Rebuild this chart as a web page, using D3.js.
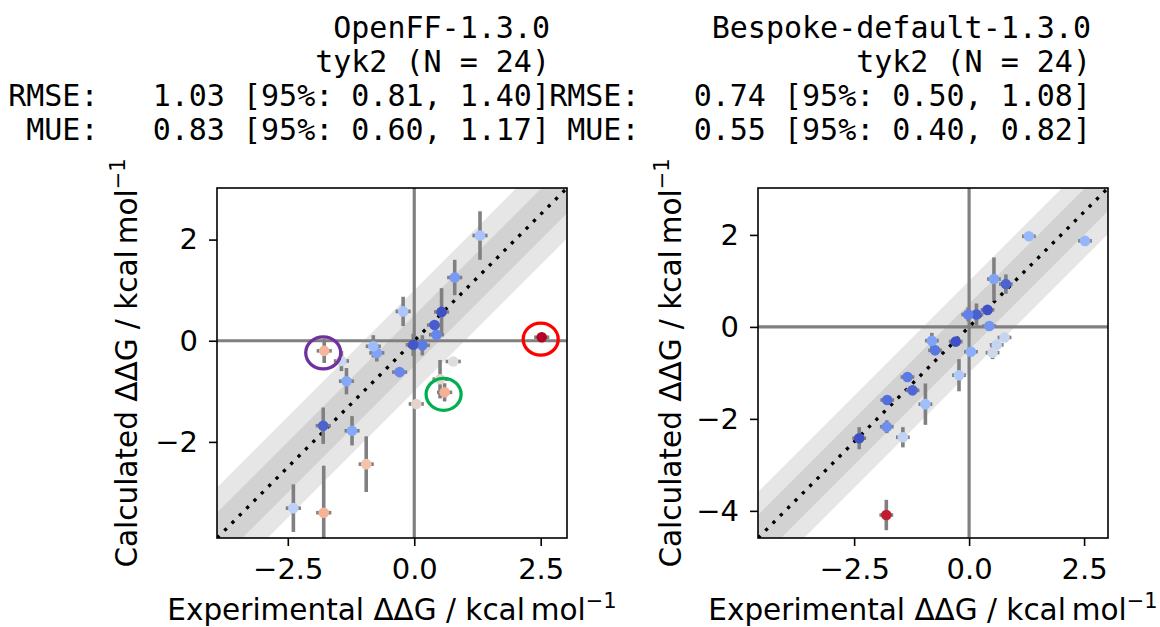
<!DOCTYPE html>
<html>
<head>
<meta charset="utf-8">
<script src="https://cdn.jsdelivr.net/npm/d3@7"></script>
<style>
  body { margin: 0; background: #fff; }
  text { font-family: "DejaVu Sans", sans-serif; fill: #000; }
  .title { font-family: "DejaVu Sans Mono", monospace; white-space: pre; }
</style>
</head>
<body>
<svg id="fig" width="1160" height="627"></svg>
<script>
// experimental ddG (shared by both panels), kcal/mol
var experimental = [2.52, 1.30, 0.80, 0.77, 0.60, 0.54, 0.51, 0.44, 0.40, 0.16, 0.04, -0.02,
                    -0.22, -0.29, -0.74, -0.81, -0.95, -1.23, -1.34, -1.44, -1.78, -1.79, -1.80, -2.39];
var experimentalErr = [0.15, 0.15, 0.15, 0.15, 0.15, 0.15, 0.15, 0.15, 0.15, 0.15, 0.15, 0.15,
                       0.15, 0.15, 0.15, 0.15, 0.15, 0.15, 0.15, 0.15, 0.15, 0.15, 0.15, 0.15];

var openffCalc = [0.07, 2.08, 1.25, -0.41, -1.02, 0.57, -0.76, 0.12, 0.31, -0.09, -1.25, -0.08,
                  0.58, -0.62, -0.24, -0.11, -2.44, -1.78, -0.80, -0.40, -0.20, -3.40, -1.68, -3.31];
var openffErr = [0.06, 0.48, 0.35, 0.06, 0.18, 0.47, 0.38, 0.08, 0.08, 0.20, 0.06, 0.22,
                 0.29, 0.05, 0.17, 0.22, 0.55, 0.29, 0.26, 0.20, 0.24, 0.93, 0.36, 0.47];

var bespokeCalc = [1.87, 1.97, 0.93, -0.23, -0.39, 1.04, -0.56, 0.02, 0.37, 0.27, -0.54, 0.27,
                   -1.05, -0.32, -0.51, -0.30, -1.68, -1.38, -1.09, -2.40, -1.59, -2.17, -4.09, -2.42];
var bespokeErr = [0.05, 0.05, 0.21, 0.07, 0.07, 0.47, 0.14, 0.05, 0.08, 0.24, 0.08, 0.15,
                  0.35, 0.06, 0.10, 0.17, 0.45, 0.10, 0.07, 0.22, 0.07, 0.14, 0.33, 0.24];

var xTicks = [-2.5, 0, 2.5];
var openffYTicks = [-2, 0, 2];
var bespokeYTicks = [-4, -2, 0, 2];

var openffTitle = ["OpenFF-1.3.0", "tyk2 (N = 24)",
                   "RMSE:   1.03 [95%: 0.81, 1.40]", " MUE:   0.83 [95%: 0.60, 1.17]"];
var bespokeTitle = ["Bespoke-default-1.3.0", "tyk2 (N = 24)",
                    "RMSE:   0.74 [95%: 0.50, 1.08]", " MUE:   0.55 [95%: 0.40, 0.82]"];

// points circled in the OpenFF panel (index into experimental)
var openffMarked = [0, 20, 4];
var markColors = ["#ff0000", "#7030a0", "#00b050"];

// coolwarm, coloured by |exp - calc| / 4RT (2.372 kcal/mol)
var coolwarm = d3.scaleLinear()
  .domain([0, 0.125, 0.25, 0.375, 0.5, 0.625, 0.75, 0.875, 1])
  .range(["#3b4cc0", "#6282ea", "#8db0fe", "#b8d0f9", "#dddddd", "#f5c4ad", "#f49a7b", "#de604d", "#b40426"])
  .clamp(true);

var svg = d3.select("#fig");
var size = 350;
var fontSize = 29.5;

drawPanel({ id: "openff", left: 217, top: 188, calc: openffCalc, err: openffErr,
            yTicks: openffYTicks, title: openffTitle, titleRight: 550, ylabelX: 137, marked: openffMarked });
drawPanel({ id: "bespoke", left: 758, top: 188, calc: bespokeCalc, err: bespokeErr,
            yTicks: bespokeYTicks, title: bespokeTitle, titleRight: 1091, ylabelX: 681, marked: [] });

function drawPanel(p) {
  var all = experimental.concat(p.calc);
  var lo = d3.min(all) - 0.5, hi = d3.max(all) + 0.5;
  var x = d3.scaleLinear().domain([lo, hi]).range([0, size]);
  var y = d3.scaleLinear().domain([lo, hi]).range([size, 0]);

  var g = svg.append("g").attr("transform", "translate(" + p.left + "," + p.top + ")");

  g.append("clipPath").attr("id", "clip-" + p.id)
    .append("rect").attr("width", size).attr("height", size);
  var plot = g.append("g").attr("clip-path", "url(#clip-" + p.id + ")");

  /* shaded bands of 1 and 0.5 kcal/mol round y = x */
  [1, 0.5].forEach(function(w) {
    var band = [[lo, lo - w], [hi, hi - w], [hi, hi + w], [lo, lo + w]];
    plot.append("path")
      .attr("d", d3.line().x(function(d) { return x(d[0]); }).y(function(d) { return y(d[1]); })(band) + "Z")
      .attr("fill", "#808080")
      .attr("fill-opacity", 0.2);
  });

  /* zero lines */
  plot.append("line")
    .attr("x1", x(0)).attr("x2", x(0)).attr("y1", 0).attr("y2", size)
    .attr("stroke", "#808080").attr("stroke-width", 3.2);
  plot.append("line")
    .attr("x1", 0).attr("x2", size).attr("y1", y(0)).attr("y2", y(0))
    .attr("stroke", "#808080").attr("stroke-width", 3.2);

  /* y = x */
  plot.append("line")
    .attr("x1", x(lo)).attr("y1", y(lo)).attr("x2", x(hi)).attr("y2", y(hi))
    .attr("stroke", "#000").attr("stroke-width", 3.3)
    .attr("stroke-dasharray", "3.3 7.1");

  var pts = experimental.map(function(e, i) {
    return { exp: e, expErr: experimentalErr[i], calc: p.calc[i], err: p.err[i] };
  });

  /* error bars */
  plot.selectAll(".yerr").data(pts).enter().append("line")
    .attr("x1", function(d) { return x(d.exp); })
    .attr("x2", function(d) { return x(d.exp); })
    .attr("y1", function(d) { return y(d.calc - d.err); })
    .attr("y2", function(d) { return y(d.calc + d.err); })
    .attr("stroke", "#808080").attr("stroke-width", 3.6);
  plot.selectAll(".xerr").data(pts).enter().append("line")
    .attr("x1", function(d) { return x(d.exp - d.expErr); })
    .attr("x2", function(d) { return x(d.exp + d.expErr); })
    .attr("y1", function(d) { return y(d.calc); })
    .attr("y2", function(d) { return y(d.calc); })
    .attr("stroke", "#808080").attr("stroke-width", 3.6);

  /* points */
  plot.selectAll(".pt").data(pts).enter().append("circle")
    .attr("cx", function(d) { return x(d.exp); })
    .attr("cy", function(d) { return y(d.calc); })
    .attr("r", 5.3)
    .attr("fill", function(d) { return coolwarm(Math.abs(d.exp - d.calc) / 2.372); });

  /* frame */
  g.append("rect").attr("width", size).attr("height", size)
    .attr("fill", "none").attr("stroke", "#000").attr("stroke-width", 1.6);

  /* axes */
  var xAxis = g.append("g").attr("transform", "translate(0," + size + ")")
    .call(d3.axisBottom(x).tickValues(xTicks).tickFormat(d3.format(".1f")).tickSize(8).tickPadding(12));
  var yAxis = g.append("g")
    .call(d3.axisLeft(y).tickValues(p.yTicks).tickFormat(d3.format("d")).tickSize(8).tickPadding(11));
  [xAxis, yAxis].forEach(function(a) {
    a.select(".domain").remove();
    a.selectAll("line").attr("stroke", "#000").attr("stroke-width", 1.6);
    a.selectAll("text").attr("font-family", "DejaVu Sans").attr("font-size", 29).attr("fill", "#000");
  });

  /* axis labels */
  var xl = svg.append("text")
    .attr("x", p.left + size / 2).attr("y", 620)
    .attr("text-anchor", "middle").attr("font-size", fontSize);
  addLabel(xl, "Experimental");

  var yl = svg.append("text")
    .attr("transform", "translate(" + p.ylabelX + "," + (p.top + size / 2) + ") rotate(-90)")
    .attr("text-anchor", "middle").attr("font-size", fontSize);
  addLabel(yl, "Calculated");

  /* circled points */
  p.marked.forEach(function(idx, k) {
    g.append("ellipse")
      .attr("cx", x(experimental[idx]) - 1).attr("cy", y(p.calc[idx]) + 2)
      .attr("rx", 17.5).attr("ry", 16)
      .attr("fill", "none").attr("stroke", markColors[k]).attr("stroke-width", 3.3);
  });

  /* title */
  var t = svg.append("text").attr("class", "title")
    .attr("text-anchor", "end").attr("font-size", 30);
  p.title.forEach(function(line, i) {
    t.append("tspan").attr("x", p.titleRight).attr("y", 37.5 + i * 34.2).text(line);
  });
}

function addLabel(sel, word) {
  sel.append("tspan").text(word + " \u0394\u0394G / kcal\u2009mol");
  sel.append("tspan").attr("font-size", 21).attr("dy", -12).text("\u22121");
}
</script>
</body>
</html>
